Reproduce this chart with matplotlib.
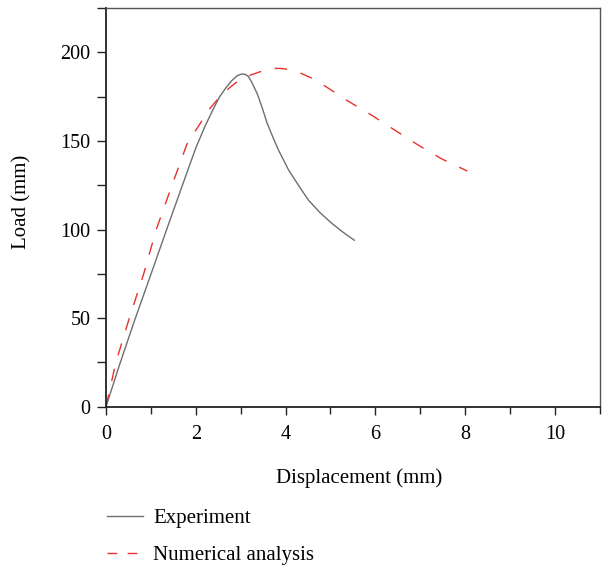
import matplotlib
matplotlib.use("Agg")
import matplotlib.pyplot as plt
from matplotlib.lines import Line2D
from matplotlib.ticker import MultipleLocator

plt.rcParams['font.family'] = ['Liberation Serif', 'DejaVu Serif']

# Load-displacement curves
exp_x = [0, 0.3, 0.62, 0.97, 1.33, 1.66, 2.0, 2.2, 2.37, 2.52, 2.67, 2.8,
         2.92, 3.02, 3.1, 3.17, 3.25, 3.37, 3.47, 3.59, 3.72, 3.84, 4.07,
         4.3, 4.51, 4.77, 5.03, 5.28, 5.53]
exp_y = [0, 23.5, 47.5, 72.5, 98.5, 122, 146, 158, 167, 174.5, 180, 184,
         186.8, 187.8, 187.6, 186.5, 183, 176.6, 169.5, 160, 152, 145, 133.5,
         124.5, 116.6, 109.5, 103.5, 98.5, 94]

num_x = [0, 0.22, 0.52, 0.84, 1.12, 1.47, 1.8, 2.0, 2.18, 2.32, 2.47, 2.62,
         2.75, 2.9, 3.04, 3.2, 3.4, 3.6, 3.8, 3.95, 4.1, 4.25, 4.36, 4.66,
         5.0, 5.36, 5.92, 6.44, 6.96, 7.47, 8.05]
num_y = [0, 25, 50, 75, 100, 125, 148, 156, 163, 168.5, 173, 177, 180, 183,
         185, 187, 188.8, 190.3, 191, 190.8, 190.2, 189, 188, 184.6, 179,
         173, 164.5, 156, 147.6, 140, 133]

labels = ['Experiment', 'Numerical analysis']
gray = '#6e6e6e'
red = '#e8312a'

fig = plt.figure(figsize=(6.09, 5.77), dpi=100)
ax = fig.add_axes([0.174, 0.295, 0.811, 0.691])

ax.plot(exp_x, exp_y, color=gray, lw=1.0)
ax.plot(num_x, num_y, color=red, lw=1.0, dashes=(9, 10))

ax.set_xlim(0, 11)
ax.set_ylim(0, 225)
ax.xaxis.set_major_locator(MultipleLocator(2))
ax.xaxis.set_minor_locator(MultipleLocator(1))
ax.yaxis.set_major_locator(MultipleLocator(50))
ax.yaxis.set_minor_locator(MultipleLocator(25))
ax.tick_params(which='both', direction='out', width=1.0, color='#222222',
               labelsize=14.5)
ax.tick_params(axis='x', which='major', length=5.8, pad=7)
ax.tick_params(axis='x', which='minor', length=5.0)
ax.tick_params(axis='y', which='both', length=6.5, pad=4.5)

for side in ['left', 'bottom']:
    ax.spines[side].set_linewidth(1.3)
    ax.spines[side].set_color('#222222')
for side in ['top', 'right']:
    ax.spines[side].set_linewidth(1.0)
    ax.spines[side].set_color('#555555')

ax.set_xlabel('Displacement (mm)', fontsize=15, va='center')
ax.set_ylabel('Load (mm)', fontsize=15, va='center')
ax.xaxis.set_label_coords(0.512, -0.178)
ax.yaxis.set_label_coords(-0.170, 0.514)

handles = [Line2D([], [], color=gray, lw=1.0),
           Line2D([], [], color=red, lw=1.0, dashes=(7, 7.5))]
fig.legend(handles, labels, loc='upper left', bbox_to_anchor=(0.175, 0.119),
           frameon=False, fontsize=15, handlelength=1.75, handletextpad=0.5,
           labelspacing=0.83, borderpad=0, borderaxespad=0)

fig.savefig('out.png', dpi=100)
